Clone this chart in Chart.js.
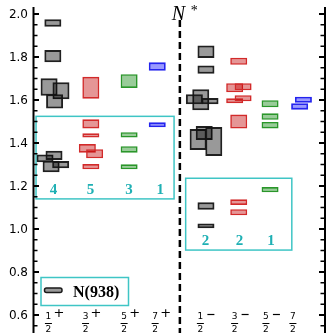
<!DOCTYPE html>
<html>
<head>
<meta charset="utf-8">
<script src="https://cdn.jsdelivr.net/npm/chart.js@4/dist/chart.umd.min.js"></script>
<style>
  html, body { margin: 0; padding: 0; background: #fff; }
  canvas { display: block; }
</style>
</head>
<body>
<canvas id="spectrum" width="326" height="333"></canvas>
<script>
// J^P columns (numerator of J/2 and parity) and where they sit on the x axis
const spinNumerators = ['1', '3', '5', '7', '1', '3', '5', '7'];
const spinParity = ['+', '+', '+', '+', '−', '−', '−', ''];
const columnX = [0.67, 1.95, 3.28, 4.35, 5.91, 7.09, 8.17, 9.10];
const parityDivider = 5.03;

// number of states counted inside each lower group frame
const positiveGroupCounts = [4, 5, 3, 1];
const negativeGroupCounts = [2, 2, 1];

const yTickLabels = ['0.6', '0.8', '1.0', '1.2', '1.4', '1.6', '1.8', '2.0'];

// J = 1/2 states (both parities), mass band in GeV
const halfX    = [0.65, 0.65, 0.52, 0.93, 0.71, 0.38, 0.69, 0.59, 0.92,
                  5.93, 5.93, 5.75, 5.53, 6.07, 5.66, 5.87, 6.20, 5.93, 5.93];
const halfLow  = [1.941, 1.775, 1.620, 1.603, 1.560, 1.310, 1.321, 1.264, 1.282,
                  1.795, 1.722, 1.552, 1.580, 1.580, 1.367, 1.414, 1.340, 1.090, 1.003];
const halfHigh = [1.975, 1.833, 1.701, 1.682, 1.627, 1.347, 1.364, 1.318, 1.316,
                  1.854, 1.761, 1.650, 1.627, 1.609, 1.465, 1.479, 1.474, 1.124, 1.026];

// J = 3/2 states
const threeX    = [1.96, 1.96, 1.96, 1.84, 2.09, 1.96,
                   7.06, 6.92, 7.21, 6.92, 7.21, 7.06, 7.06, 7.06];
const threeLow  = [1.606, 1.468, 1.425, 1.355, 1.329, 1.278,
                   1.764, 1.636, 1.645, 1.585, 1.594, 1.467, 1.112, 1.064];
const threeHigh = [1.708, 1.510, 1.445, 1.395, 1.371, 1.302,
                   1.797, 1.678, 1.678, 1.608, 1.622, 1.532, 1.138, 1.092];

// J = 5/2 states
const fiveX    = [3.28, 3.28, 3.28, 3.28, 8.14, 8.14, 8.14, 8.14];
const fiveLow  = [1.656, 1.425, 1.355, 1.278, 1.566, 1.508, 1.468, 1.171];
const fiveHigh = [1.720, 1.450, 1.385, 1.301, 1.599, 1.538, 1.498, 1.195];

// J = 7/2 states
const sevenX    = [4.25, 4.25, 9.29, 9.16];
const sevenLow  = [1.736, 1.473, 1.587, 1.555];
const sevenHigh = [1.775, 1.496, 1.615, 1.585];

// frames around the lowest-lying groups: [x0, x1, y0, y1]
const groupFrames = [
  [0.07, 4.83, 1.140, 1.524],
  [5.23, 8.89, 0.902, 1.236]
];

const toBands = (xs, lo, hi) => xs.map((x, i) => ({ x: x, y: [lo[i], hi[i]] }));

const bandStyle = (fill, edge, w) => ({
  backgroundColor: fill,
  borderColor: edge,
  borderWidth: w,
  borderSkipped: false,
  grouped: false,
  barThickness: 17,
  inflateAmount: 0
});

const FRAME = '#3fc5c5';
const COUNT = '#1fb0b4';

const decorations = {
  id: 'decorations',
  beforeDatasetsDraw(chart) {
    const g = chart.ctx, x = chart.scales.x, y = chart.scales.y;
    g.save();
    g.strokeStyle = FRAME;
    g.lineWidth = 1.5;
    groupFrames.forEach(f => {
      const l = x.getPixelForValue(f[0]), r = x.getPixelForValue(f[1]);
      const t = y.getPixelForValue(f[3]), b = y.getPixelForValue(f[2]);
      g.strokeRect(l, t, r - l, b - t);
    });
    // state counts along the bottom of each frame
    g.fillStyle = COUNT;
    g.font = 'bold 15px "Liberation Serif", serif';
    g.textAlign = 'center';
    g.textBaseline = 'alphabetic';
    const lb = y.getPixelForValue(groupFrames[0][2]) - 4.5;
    positiveGroupCounts.forEach((n, i) => g.fillText(String(n), x.getPixelForValue(columnX[i]), lb));
    const rb = y.getPixelForValue(groupFrames[1][2]) - 5;
    negativeGroupCounts.forEach((n, i) => g.fillText(String(n), x.getPixelForValue(columnX[4 + i]), rb));
    g.restore();
  },
  afterDatasetsDraw(chart) {
    const g = chart.ctx, x = chart.scales.x, y = chart.scales.y;
    const area = chart.chartArea;
    g.save();

    // parity divider
    const dx = x.getPixelForValue(parityDivider);
    g.strokeStyle = '#000';
    g.lineWidth = 2.5;
    g.setLineDash([7, 4]);
    g.beginPath();
    g.moveTo(dx, 20);
    g.lineTo(dx, area.bottom);
    g.stroke();
    g.setLineDash([]);

    // N* heading
    g.fillStyle = '#000';
    g.textAlign = 'left';
    g.textBaseline = 'alphabetic';
    g.font = 'italic 20px "Liberation Serif", serif';
    g.fillText('N', dx - 8, 20);
    g.font = '14px "Liberation Serif", serif';
    g.fillText('*', dx + 11, 15);

    // side axes
    g.lineWidth = 2;
    g.beginPath();
    g.moveTo(area.left - 0.5, 7); g.lineTo(area.left - 0.5, area.bottom);
    g.moveTo(area.right + 1, 7); g.lineTo(area.right + 1, area.bottom);
    g.stroke();

    // ticks every 0.05, labelled every 0.2
    for (let k = 0; k <= 30; k++) {
      const v = 0.55 + 0.05 * k;
      const py = y.getPixelForValue(v);
      if (py < 7 || py > area.bottom) continue;
      const major = Math.abs(v / 0.2 - Math.round(v / 0.2)) < 1e-6;
      g.lineWidth = major ? 2 : 1.5;
      const len = major ? 5 : 3.5;
      g.beginPath();
      g.moveTo(area.left, py); g.lineTo(area.left + len, py);
      g.moveTo(area.right, py); g.lineTo(area.right - len, py);
      g.stroke();
    }
    g.font = '12px "DejaVu Sans", sans-serif';
    g.textAlign = 'right';
    g.textBaseline = 'middle';
    yTickLabels.forEach(t => g.fillText(t, 28, y.getPixelForValue(parseFloat(t)) + 1));

    // J^P labels
    spinNumerators.forEach((num, i) => {
      const cx = x.getPixelForValue(columnX[i]);
      const fx = cx - 5;
      g.textAlign = 'center';
      g.textBaseline = 'middle';
      g.font = '9px "DejaVu Sans", sans-serif';
      g.fillText(num, fx, 317);
      g.fillText('2', fx, 330);
      g.lineWidth = 1;
      g.beginPath();
      g.moveTo(fx - 3.5, 323.5); g.lineTo(fx + 3.5, 323.5);
      g.stroke();
      const p = spinParity[i];
      if (p === '+') {
        g.font = '13px "DejaVu Sans", sans-serif';
        g.fillText('+', cx + 5.5, 314);
      } else if (p === '−') {
        g.lineWidth = 1.2;
        g.beginPath();
        g.moveTo(cx + 2, 314.5); g.lineTo(cx + 9, 314.5);
        g.stroke();
      }
    });

    // legend: nucleon ground state marker
    const lx = area.left + 7, ly = 277.5;
    g.strokeStyle = FRAME;
    g.lineWidth = 1.5;
    g.strokeRect(lx, ly, 87.5, 28);
    g.fillStyle = 'rgba(0,0,0,0.4)';
    g.strokeStyle = '#1a1a1a';
    g.lineWidth = 1.5;
    g.beginPath();
    g.roundRect(lx + 3.5, ly + 10.5, 17.5, 4.5, 2);
    g.fill();
    g.stroke();
    g.fillStyle = '#000';
    g.textAlign = 'left';
    g.textBaseline = 'alphabetic';
    g.font = 'bold 16px "Liberation Serif", serif';
    g.fillText('N(938)', lx + 32, ly + 19);

    g.restore();
  }
};

new Chart(document.getElementById('spectrum'), {
  type: 'bar',
  data: {
    datasets: [
      Object.assign({ label: 'J=1/2', data: toBands(halfX, halfLow, halfHigh) },
        bandStyle('rgba(0,0,0,0.4)', 'rgba(20,20,20,0.95)', 2)),
      Object.assign({ label: 'J=3/2', data: toBands(threeX, threeLow, threeHigh) },
        bandStyle('rgba(192,0,0,0.41)', '#d22a2a', 1.6)),
      Object.assign({ label: 'J=5/2', data: toBands(fiveX, fiveLow, fiveHigh) },
        bandStyle('rgba(0,128,0,0.4)', '#2a962a', 1.6)),
      Object.assign({ label: 'J=7/2', data: toBands(sevenX, sevenLow, sevenHigh) },
        bandStyle('rgba(0,0,255,0.4)', '#2424ee', 1.8))
    ]
  },
  options: {
    responsive: false,
    animation: false,
    devicePixelRatio: 1,
    layout: { padding: { left: 34, right: 2, top: 0, bottom: 0 } },
    scales: {
      x: { type: 'linear', min: 0, max: 10, offset: false, display: false },
      y: { type: 'linear', min: 0.5163, max: 2.0651, display: false }
    },
    plugins: { legend: { display: false }, tooltip: { enabled: false } }
  },
  plugins: [decorations]
});
</script>
</body>
</html>
